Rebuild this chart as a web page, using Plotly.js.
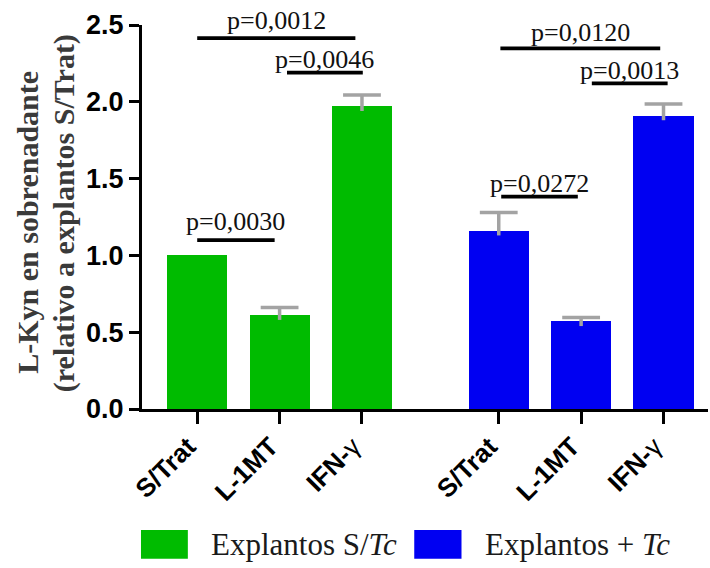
<!DOCTYPE html>
<html>
<head>
<meta charset="utf-8">
<script src="https://cdn.plot.ly/plotly-3.0.1.min.js"></script>
<style>html,body{margin:0;padding:0;background:#fff;} #chart{width:710px;height:568px;}</style>
</head>
<body>
<div id="chart"></div>
<script>
// ---- data ----
const categories = ["S/Trat", "L-1MT", "IFN-γ"];
const tickLabels = ["<b>S/Trat</b>", "<b>L-1MT</b>", "<b>IFN-</b>γ"];
const groupNames = ["Explantos S/<i>Tc</i>", "Explantos + <i>Tc</i>"];
const valuesSinTc = [1.00, 0.61, 1.97];
const errorsSinTc = [0.00, 0.05, 0.075];
const valuesConTc = [1.16, 0.57, 1.91];
const errorsConTc = [0.12, 0.025, 0.075];
const yTickVals = [0, 0.5, 1.0, 1.5, 2.0, 2.5];
const yTickText = ["0.0", "0.5", "1.0", "1.5", "2.0", "2.5"];
const yTitleLines = ["L-Kyn en sobrenadante", "(relativo a explantos S/Trat)"];
// significance comparisons
const sigGroup  = [0, 0, 0, 1, 1, 1];
const sigFrom   = [0, 1, 0, 0, 1, 0];
const sigTo     = [1, 2, 2, 1, 2, 2];
const sigLevel  = [1.10, 2.19, 2.415, 1.382, 2.12, 2.348];
const sigLabels = ["p=0,0030", "p=0,0046", "p=0,0012", "p=0,0272", "p=0,0013", "p=0,0120"];

// ---- layout / style constants ----
const groupOffset = 3.66;
const pos = (g, i) => i + g * groupOffset;
const sigTrimFrom = [0, 0.09, 0, 0.03, 0.13, 0.02];
const sigTrimTo   = [-0.06, 0.01, -0.08, -0.04, 0.05, -0.04];
const sigTextGap  = [19, 13, 18, 13, 13, 16];
const colors = ["#00bb00", "#0000f2"];
const errColor = "#a3a3a3";
const serif = "Liberation Serif, Times New Roman, serif";
const sans = "Liberation Sans, Arial, sans-serif";

function barTrace(g, vals) {
  return {
    type: "bar",
    x: categories.map((c, i) => pos(g, i)),
    y: vals,
    width: 0.73,
    marker: {color: colors[g], line: {width: 0}},
    showlegend: false,
    hoverinfo: "skip"
  };
}
function errTrace(g, vals, errs) {
  return {
    type: "scatter", mode: "markers",
    x: categories.map((c, i) => pos(g, i)),
    y: vals.map((v, i) => errs[i] > 0 ? v + errs[i] : null),
    marker: {symbol: "line-ew-open", size: 27, color: errColor, line: {color: errColor, width: 3.5}},
    error_y: {type: "data", symmetric: false, array: errs.map(() => 0),
              arrayminus: errs.map(e => e + 0.03), color: errColor, thickness: 3.5, width: 0},
    showlegend: false, hoverinfo: "skip", cliponaxis: false
  };
}

const data = [
  barTrace(0, valuesSinTc), barTrace(1, valuesConTc),
  errTrace(0, valuesSinTc, errorsSinTc), errTrace(1, valuesConTc, errorsConTc)
];

const shapes = [];
const annotations = [];
sigLabels.forEach((lab, k) => {
  const x0 = pos(sigGroup[k], sigFrom[k]) + sigTrimFrom[k];
  const x1 = pos(sigGroup[k], sigTo[k]) + sigTrimTo[k];
  shapes.push({type: "line", xref: "x", yref: "y", x0: x0, x1: x1, y0: sigLevel[k], y1: sigLevel[k],
               line: {color: "#000", width: 3.8}});
  annotations.push({xref: "x", yref: "y", x: (x0 + x1) / 2, y: sigLevel[k], yanchor: "middle",
                    yshift: sigTextGap[k], text: lab, showarrow: false,
                    font: {family: serif, size: 26, color: "#111"}});
});

// y-axis title as two rotated lines
const yTitleX = [-0.2014, -0.1378];
const yTitleY = [0.485, 0.51];
yTitleLines.forEach((t, k) => {
  annotations.push({xref: "paper", yref: "paper", x: yTitleX[k], y: yTitleY[k], xanchor: "center",
                    yanchor: "middle", textangle: -90, text: t, showarrow: false,
                    font: {family: serif, size: 30, color: "#3a3a3a", weight: "bold"}});
});

// custom legend (large swatches)
const legendX = [[-0.0018, 0.081, 0.118], [0.481, 0.5645, 0.602]];
groupNames.forEach((name, g) => {
  shapes.push({type: "rect", xref: "paper", yref: "paper", x0: legendX[g][0], x1: legendX[g][1],
               y0: -0.39, y1: -0.315, fillcolor: colors[g], line: {width: 0}});
  annotations.push({xref: "paper", yref: "paper", x: legendX[g][2], y: -0.352, xanchor: "left",
                    yanchor: "middle", text: name, showarrow: false,
                    font: {family: serif, size: 31, color: "#1a1a1a"}});
});

const layout = {
  width: 710, height: 568,
  margin: {l: 142, r: 2, t: 25, b: 159},
  paper_bgcolor: "#fff", plot_bgcolor: "#fff",
  showlegend: false,
  bargap: 0,
  xaxis: {
    range: [-0.67, 6.2],
    tickvals: [0, 1, 2, 3, 4, 5].map(k => pos(Math.floor(k / 3), k % 3)),
    ticktext: tickLabels.concat(tickLabels),
    tickangle: -45,
    tickfont: {family: sans, size: 26, color: "#000"},
    ticks: "outside", ticklen: 12, tickwidth: 3, tickcolor: "#000",
    ticklabelshift: -9, ticklabelstandoff: -3,
    showline: true, linewidth: 3, linecolor: "#000",
    showgrid: false, zeroline: false, fixedrange: true
  },
  yaxis: {
    range: [0, 2.5],
    tickvals: yTickVals, ticktext: yTickText,
    tickfont: {family: sans, size: 27, color: "#000", weight: "bold"},
    ticks: "outside", ticklen: 10, tickwidth: 3, tickcolor: "#000",
    showline: true, linewidth: 3, linecolor: "#000",
    showgrid: false, zeroline: false, fixedrange: true
  },
  shapes: shapes,
  annotations: annotations
};

Plotly.newPlot("chart", data, layout, {staticPlot: true, displayModeBar: false});
</script>
</body>
</html>
